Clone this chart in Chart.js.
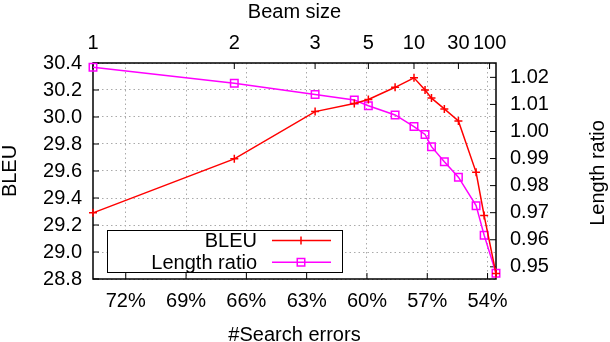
<!DOCTYPE html>
<html>
<head>
<meta charset="utf-8">
<script src="https://cdn.jsdelivr.net/npm/chart.js@4/dist/chart.umd.min.js"></script>
<style>
  html, body { margin: 0; padding: 0; background: #fff; }
</style>
</head>
<body>
<canvas id="beam_chart" width="610" height="342"></canvas>
<script>
// % de errores de busqueda por cada tamaño de haz (eje x compartido)
const searchErrors = [73.63, 66.60, 62.58, 60.63, 59.93, 58.60, 57.66, 57.11, 56.79, 56.15, 55.45, 54.57, 54.17, 53.58];
const bleu = [29.29, 29.69, 30.04, 30.10, 30.13, 30.22, 30.29, 30.20, 30.14, 30.06, 29.97, 29.59, 29.27, 28.84];
const lengthRatio = [1.0237, 1.0178, 1.0137, 1.0116, 1.0095, 1.0061, 1.0018, 0.9989, 0.9944, 0.9888, 0.9831, 0.9726, 0.9617, 0.9476];

const errorTicks = [72, 69, 66, 63, 60, 57, 54];
const bleuTicks = [28.8, 29.0, 29.2, 29.4, 29.6, 29.8, 30.0, 30.2, 30.4];
const ratioTicks = [0.95, 0.96, 0.97, 0.98, 0.99, 1.00, 1.01, 1.02];
const beamLabels = ['1', '2', '3', '5', '10', '30', '100'];
const beamTickPos = [73.63, 66.60, 62.58, 59.93, 57.66, 55.45, 53.9];

const FONT = '"Liberation Sans", Arial, sans-serif';

const setTicks = (values) => (scale) => {
  scale.ticks = values.map(v => ({ value: v }));
};

// marco negro + ticks hacia dentro (estilo gnuplot)
const marco = {
  id: 'marco',
  beforeDatasetsDraw(chart) {
    const { ctx, chartArea: a, scales } = chart;
    const t = 6;
    ctx.save();
    ctx.strokeStyle = '#000';
    ctx.lineWidth = 1;
    ctx.beginPath();
    scales.y.ticks.forEach(tk => {
      const p = scales.y.getPixelForValue(tk.value);
      ctx.moveTo(a.left, p); ctx.lineTo(a.left + t, p);
    });
    scales.y2.ticks.forEach(tk => {
      const p = scales.y2.getPixelForValue(tk.value);
      ctx.moveTo(a.right, p); ctx.lineTo(a.right - t, p);
    });
    scales.x.ticks.forEach(tk => {
      const p = scales.x.getPixelForValue(tk.value);
      ctx.moveTo(p, a.bottom); ctx.lineTo(p, a.bottom - t);
    });
    scales.x2.ticks.forEach(tk => {
      const p = scales.x2.getPixelForValue(tk.value);
      ctx.moveTo(p, a.top); ctx.lineTo(p, a.top + t);
    });
    ctx.stroke();
    ctx.lineWidth = 1.5;
    ctx.strokeRect(a.left, a.top, a.right - a.left, a.bottom - a.top);

    // titulo del eje derecho, leido de abajo hacia arriba
    ctx.fillStyle = '#000';
    ctx.font = '20px ' + FONT;
    ctx.translate(598, (a.top + a.bottom) / 2 + 2);
    ctx.rotate(-Math.PI / 2);
    ctx.textAlign = 'center';
    ctx.textBaseline = 'middle';
    ctx.fillText('Length ratio', 0, 0);
    ctx.restore();
  }
};

// leyenda con texto a la derecha y muestra de linea
const leyenda = {
  id: 'leyenda',
  afterDatasetsDraw(chart) {
    const { ctx, chartArea: a } = chart;
    const x0 = a.left + 14, y0 = a.top + 167, w = 235, h = 42;
    ctx.save();
    ctx.fillStyle = '#fff';
    ctx.fillRect(x0, y0, w, h);
    ctx.strokeStyle = '#000';
    ctx.lineWidth = 1;
    ctx.strokeRect(x0 + 0.5, y0 + 0.5, w, h);
    ctx.font = '20px ' + FONT;
    ctx.textAlign = 'right';
    ctx.textBaseline = 'middle';
    chart.data.datasets.forEach((ds, i) => {
      const y = y0 + 10.5 + i * 21.7;
      ctx.fillStyle = '#000';
      ctx.fillText(ds.label, x0 + 150, y + 1);
      ctx.strokeStyle = ds.borderColor;
      ctx.lineWidth = ds.borderWidth;
      ctx.beginPath();
      ctx.moveTo(x0 + 165, y); ctx.lineTo(x0 + 224, y);
      const cx = x0 + 194, r = ds.pointRadius;
      if (ds.pointStyle === 'cross') {
        ctx.moveTo(cx - r, y); ctx.lineTo(cx + r, y);
        ctx.moveTo(cx, y - r); ctx.lineTo(cx, y + r);
      } else {
        const s = Math.SQRT1_2 * r;
        ctx.rect(cx - s, y - s, 2 * s, 2 * s);
      }
      ctx.stroke();
    });
    ctx.restore();
  }
};

const ctx = document.getElementById('beam_chart').getContext('2d');
const chart_beam = new Chart(ctx, {
  type: 'line',
  data: {
    datasets: [{
      label: 'BLEU',
      data: searchErrors.map((x, i) => ({ x: x, y: bleu[i] })),
      xAxisID: 'x',
      yAxisID: 'y',
      borderColor: '#ff0000',
      backgroundColor: '#ff0000',
      borderWidth: 1.5,
      pointStyle: 'cross',
      pointRadius: 4,
      pointBorderWidth: 1.5,
      tension: 0,
      clip: false
    }, {
      label: 'Length ratio',
      data: searchErrors.map((x, i) => ({ x: x, y: lengthRatio[i] })),
      xAxisID: 'x',
      yAxisID: 'y2',
      borderColor: '#ff00ff',
      backgroundColor: 'rgba(0,0,0,0)',
      borderWidth: 1.5,
      pointStyle: 'rect',
      pointRadius: 5.3,
      pointBorderWidth: 1.5,
      tension: 0,
      clip: false
    }]
  },
  options: {
    responsive: false,
    animation: false,
    devicePixelRatio: 1,
    layout: { padding: 0 },
    plugins: {
      legend: { display: false },
      tooltip: { enabled: false }
    },
    scales: {
      x: {
        type: 'linear',
        position: 'bottom',
        reverse: true,
        min: 53.58,
        max: 73.63,
        afterBuildTicks: setTicks(errorTicks),
        afterFit: (s) => { s.height = 63; },
        grid: { color: '#aaa', lineWidth: 1, drawTicks: false },
        border: { display: false, dash: [1.5, 3] },
        ticks: {
          color: '#000', font: { family: FONT, size: 20 }, padding: 10,
          maxRotation: 0, autoSkip: false,
          callback: (v) => v + '%'
        },
        title: {
          display: true, text: '#Search errors', color: '#000',
          font: { family: FONT, size: 20, lineHeight: 1 }, padding: { top: 0, bottom: -3 }
        }
      },
      x2: {
        type: 'linear',
        position: 'top',
        reverse: true,
        min: 53.58,
        max: 73.63,
        afterBuildTicks: setTicks(beamTickPos),
        afterFit: (s) => { s.height = 63; },
        grid: { display: false, drawTicks: false },
        border: { display: false },
        ticks: {
          color: '#000', font: { family: FONT, size: 20 }, padding: 8,
          maxRotation: 0, autoSkip: false,
          callback: (v, i) => beamLabels[i]
        },
        title: {
          display: true, text: 'Beam size', color: '#000',
          font: { family: FONT, size: 20, lineHeight: 1 }, padding: { top: 2, bottom: 0 }
        }
      },
      y: {
        type: 'linear',
        position: 'left',
        min: 28.8,
        max: 30.4,
        afterBuildTicks: setTicks(bleuTicks),
        afterFit: (s) => { s.width = 93; },
        grid: { color: '#aaa', lineWidth: 1, drawTicks: false },
        border: { display: false, dash: [1.5, 3] },
        ticks: {
          color: '#000', font: { family: FONT, size: 20 }, padding: 11,
          callback: (v) => v.toFixed(1)
        },
        title: {
          display: true, text: 'BLEU', color: '#000',
          font: { family: FONT, size: 20, lineHeight: 1 }, padding: { top: 0, bottom: 0 }
        }
      },
      y2: {
        type: 'linear',
        position: 'right',
        min: 0.9455,
        max: 1.0253,
        afterBuildTicks: setTicks(ratioTicks),
        afterFit: (s) => { s.width = 114; },
        grid: { display: false, drawTicks: false },
        border: { display: false },
        ticks: {
          color: '#000', font: { family: FONT, size: 20 }, padding: 14,
          callback: (v) => v.toFixed(2)
        }
      }
    }
  },
  plugins: [marco, leyenda]
});
</script>
</body>
</html>
